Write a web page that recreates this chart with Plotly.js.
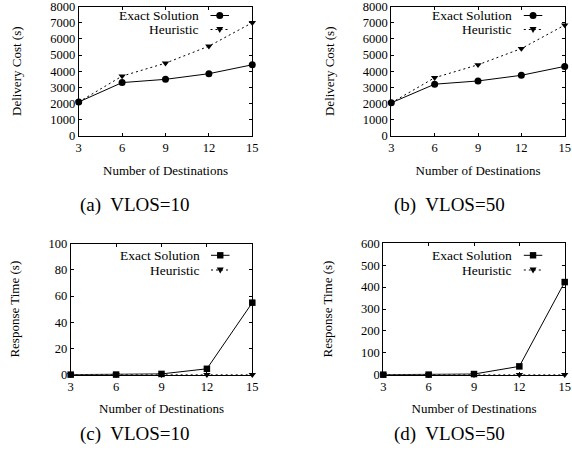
<!DOCTYPE html>
<html><head><meta charset="utf-8">
<script src="https://cdn.plot.ly/plotly-3.0.1.min.js"></script>
<style>html,body{margin:0;padding:0;background:#fff;}#chart{width:572px;height:456px;}</style>
</head><body><div id="chart"></div>
<script>
const destinations = [3, 6, 9, 12, 15];
const costExactV10 = [2100, 3300, 3500, 3850, 4400];
const costHeurV10 = [2100, 3700, 4500, 5550, 7000];
const costExactV50 = [2050, 3200, 3400, 3750, 4300];
const costHeurV50 = [2050, 3600, 4400, 5400, 6850];
const timeExactV10 = [0.05, 0.1, 0.6, 4.5, 55];
const timeHeurV10 = [0.01, 0.01, 0.02, 0.02, 0.03];
const timeExactV50 = [0.1, 0.3, 3, 38, 423];
const timeHeurV50 = [0.01, 0.01, 0.02, 0.02, 0.03];
const seriesNames = ['Exact Solution', 'Heuristic'];
const captions = ['(a)  VLOS=10', '(b)  VLOS=50', '(c)  VLOS=10', '(d)  VLOS=50'];
const xTickVals = [3, 6, 9, 12, 15];
const xTitle = 'Number of Destinations';
const yTitles = ['Delivery Cost (s)', 'Delivery Cost (s)', 'Response Time (s)', 'Response Time (s)'];

const W = 572, H = 456;
const FONT = 'Liberation Serif';
const px = x => x / W;
const py = y => 1 - y / H;

const panels = [
  {exact: costExactV10, heur: costHeurV10, sym: 'circle', box: [78.7, 6.5, 252.3, 136], yr: [0, 8000], dt: 1000, legX: 201, legY: [15.5, 29.5], cap: [135, 205]},
  {exact: costExactV50, heur: costHeurV50, sym: 'circle', box: [391.3, 6.5, 564.7, 136], yr: [0, 8000], dt: 1000, legX: 514.3, legY: [15.5, 29.5], cap: [449, 205]},
  {exact: timeExactV10, heur: timeHeurV10, sym: 'square', box: [70.7, 243.7, 252.3, 374.7], yr: [0, 100], dt: 20, legX: 201.5, legY: [255.3, 270], cap: [135, 434]},
  {exact: timeExactV50, heur: timeHeurV50, sym: 'square', box: [383.3, 243.3, 564.7, 374.7], yr: [0, 600], dt: 100, legX: 514.3, legY: [255.3, 270], cap: [449, 434]}
];

const traces = [];
const layout = {
  width: W, height: H,
  margin: {l: 0, r: 0, t: 0, b: 0},
  paper_bgcolor: '#fff', plot_bgcolor: '#fff',
  showlegend: false,
  font: {family: FONT, size: 13, color: '#000'},
  annotations: [], shapes: []
};

panels.forEach((p, i) => {
  const n = i + 1;
  const xa = 'x' + (n === 1 ? '' : n), ya = 'y' + (n === 1 ? '' : n);
  const xk = 'xaxis' + (n === 1 ? '' : n), yk = 'yaxis' + (n === 1 ? '' : n);
  traces.push({
    x: destinations, y: p.exact, xaxis: xa, yaxis: ya, name: seriesNames[0],
    mode: 'lines+markers', cliponaxis: false,
    line: {color: '#000', width: 1},
    marker: {symbol: p.sym, size: p.sym === 'circle' ? 7 : 6.5, color: '#000'}
  });
  traces.push({
    x: destinations, y: p.heur, xaxis: xa, yaxis: ya, name: seriesNames[1],
    mode: 'lines+markers', cliponaxis: false,
    line: {color: '#000', width: 1, dash: '2px,3px'},
    marker: {symbol: 'triangle-down', size: 6.5, color: '#000'}
  });
  const common = {
    showline: true, linecolor: '#000', linewidth: 1, mirror: 'allticks',
    ticks: 'inside', ticklen: 3, tickcolor: '#000', tickwidth: 1,
    showgrid: false, zeroline: false, ticklabeloverflow: 'allow',
    tickfont: {family: FONT, size: 12.5, color: '#000'}
  };
  layout[xk] = Object.assign({}, common, {
    domain: [px(p.box[0]), px(p.box[2])], anchor: ya,
    range: [3, 15], tickmode: 'array', tickvals: xTickVals,
    title: {text: xTitle, font: {family: FONT, size: 13, color: '#000'}, standoff: 11}
  });
  layout[yk] = Object.assign({}, common, {
    domain: [py(p.box[3]), py(p.box[1])], anchor: xa,
    range: p.yr, tickmode: 'linear', tick0: 0, dtick: p.dt,
    title: {text: yTitles[i], font: {family: FONT, size: 13, color: '#000'}, standoff: 25}
  });
  layout.annotations.push({
    xref: 'paper', yref: 'paper', x: px(p.cap[0]), y: py(p.cap[1]),
    text: captions[i], showarrow: false, xanchor: 'center', yanchor: 'middle',
    font: {family: FONT, size: 19, color: '#000'}
  });
  seriesNames.forEach((nm, k) => {
    const yy = p.legY[k];
    layout.annotations.push({
      xref: 'paper', yref: 'paper', x: px(p.legX), y: py(yy),
      text: nm, showarrow: false, xanchor: 'right', yanchor: 'middle',
      font: {family: FONT, size: 13.5, color: '#000'}
    });
    const lx0 = p.legX + 9.5, lx1 = p.legX + 28, lxm = (lx0 + lx1) / 2;
    layout.shapes.push({
      type: 'line', xref: 'paper', yref: 'paper', x0: px(lx0), x1: px(lx1), y0: py(yy), y1: py(yy),
      line: {color: '#000', width: 1, dash: k === 0 ? 'solid' : '2px,3px'}
    });
    let mk;
    if (k === 1) {
      mk = {type: 'path', path: 'M-3.5,2.5 L3.5,2.5 L0,-3.5 Z'};
    } else if (p.sym === 'circle') {
      mk = {type: 'circle', x0: -3.5, x1: 3.5, y0: -3.5, y1: 3.5};
    } else {
      mk = {type: 'rect', x0: -3.2, x1: 3.2, y0: -3.2, y1: 3.2};
    }
    layout.shapes.push(Object.assign(mk, {
      xref: 'paper', yref: 'paper', xsizemode: 'pixel', ysizemode: 'pixel',
      xanchor: px(lxm), yanchor: py(yy), fillcolor: '#000', line: {color: '#000', width: 0}
    }));
  });
});

Plotly.newPlot('chart', traces, layout, {displayModeBar: false, staticPlot: true});
</script>
</body></html>
